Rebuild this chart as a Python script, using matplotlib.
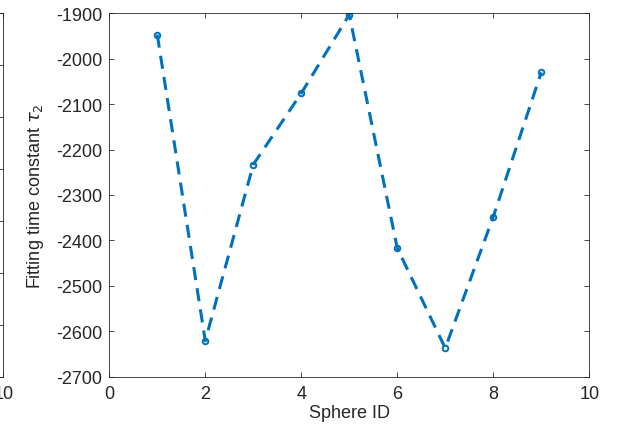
import matplotlib.pyplot as plt

plt.rcParams["font.family"] = ["Liberation Sans", "DejaVu Sans"]
plt.rcParams["axes.unicode_minus"] = False

sphere_id = [1, 2, 3, 4, 5, 6, 7, 8, 9]
tau2 = [-1947, -2621, -2233, -2076, -1903, -2417, -2637, -2348, -2030]

x_ticks = [0, 2, 4, 6, 8, 10]
y_ticks = [-2700, -2600, -2500, -2400, -2300, -2200, -2100, -2000, -1900]

AXIS_COLOR = "#262626"
LINE_COLOR = "#0072BD"
FONT_SIZE = 13


def style_axes(ax):
    for spine in ax.spines.values():
        spine.set_linewidth(0.6)
        spine.set_color(AXIS_COLOR)
    ax.tick_params(
        direction="in",
        top=True,
        right=True,
        length=3.6,
        width=0.6,
        color=AXIS_COLOR,
        labelcolor=AXIS_COLOR,
        labelsize=FONT_SIZE,
    )
    ax.tick_params(axis="x", pad=6)
    ax.tick_params(axis="y", pad=5)


fig = plt.figure(figsize=(6.28, 4.27), dpi=100)

# neighbouring panel, mostly cut off at the left edge: only its "10" shows
left_ax = fig.add_axes([0.0053 - 0.7643, 0.1155, 0.7643, 0.851])
left_ax.set_xlim(0, 10)
left_ax.set_xticks(x_ticks)
left_ax.set_xticklabels([""] * (len(x_ticks) - 1) + ["10"])
left_ax.set_ylim(0, 7)
left_ax.set_yticks(range(8))
style_axes(left_ax)
left_ax.tick_params(axis="y", labelleft=False)

ax = fig.add_axes([0.174, 0.1155, 0.7643, 0.851])
ax.plot(
    sphere_id,
    tau2,
    color=LINE_COLOR,
    linewidth=2.2,
    linestyle=(0, (4.3, 2.7)),
    marker="o",
    markersize=4,
    markerfacecolor="none",
    markeredgewidth=1.4,
)
ax.set_xlim(0, 10)
ax.set_ylim(-2700, -1900)
ax.set_xticks(x_ticks)
ax.set_yticks(y_ticks)
style_axes(ax)

ax.set_xlabel("Sphere ID", fontsize=FONT_SIZE, color=AXIS_COLOR)
ax.set_ylabel(r"Fitting time constant $\tau_2$", fontsize=FONT_SIZE, color=AXIS_COLOR)
ax.yaxis.set_label_coords(-0.132, 0.5)
ax.xaxis.set_label_coords(0.5, -0.075)

fig.savefig("out.png", dpi=100)
